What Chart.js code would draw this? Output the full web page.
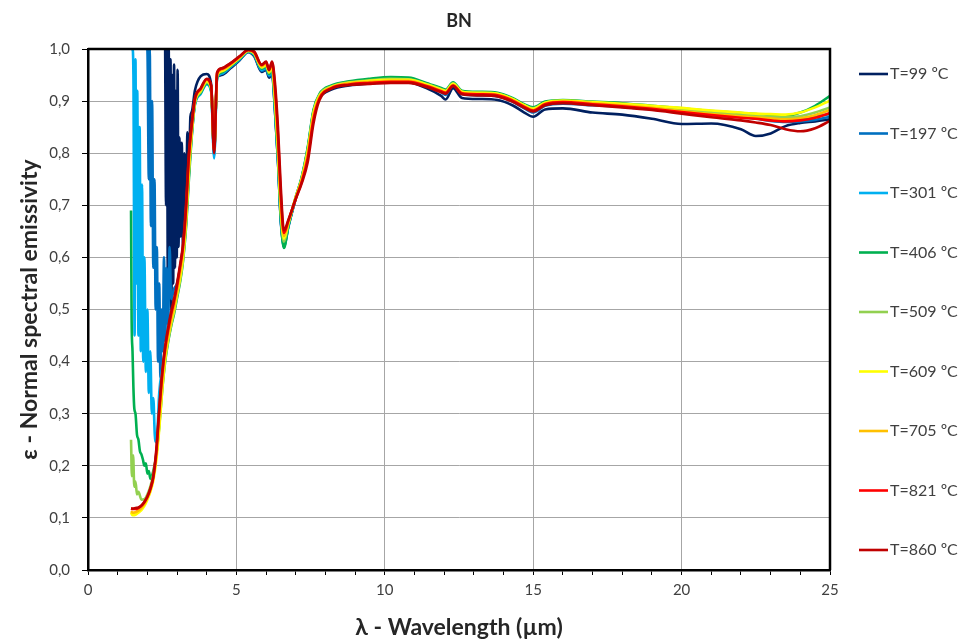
<!DOCTYPE html>
<html lang="en">
  <head>
    <meta charset="UTF-8" />
    <title>BN emissivity</title>
    <style>
      body {
        margin: 0;
        padding: 0;
        background: #ffffff;
      }
      .box {
        width: 966px;
        height: 643px;
        position: relative;
      }
    </style>
  </head>
  <body>
    <div class="box">
      <canvas id="bnChart"></canvas>
    </div>

    <script src="https://cdn.jsdelivr.net/npm/chart.js"></script>
    <script>
      // legend labels and line colours
      const labels = ["T=99 ºC", "T=197 ºC", "T=301 ºC", "T=406 ºC", "T=509 ºC",
        "T=609 ºC", "T=705 ºC", "T=821 ºC", "T=860 ºC"];
      const colors = ["#002060", "#0070C0", "#00B0F0", "#00B050", "#92D050",
        "#FFFF00", "#FFC000", "#FF0000", "#C00000"];

      const yTicks = [0, 0.1, 0.2, 0.3, 0.4, 0.5, 0.6, 0.7, 0.8, 0.9, 1.0];
      const xTicks = [0, 5, 10, 15, 20, 25];

      // wavelengths (µm) shared by all series above 3.5 µm
      const wlTail = [3.6, 3.8, 4.0, 4.15, 4.25, 4.35, 4.5, 4.8, 5.1, 5.4,
        5.6, 5.85, 6.0, 6.1, 6.2, 6.3, 6.4, 6.5, 6.6, 6.75,
        7.0, 7.2, 7.4, 7.6, 7.8, 8.2, 8.8, 9.5, 10.2, 10.8,
        11.4, 11.9, 12.05, 12.3, 12.6, 13.2, 13.8, 14.3, 14.7, 15.0,
        15.4, 16, 17, 18, 19, 20, 21, 22, 22.5, 23,
        23.5, 24, 24.5, 25];

      // short wavelength part, own wavelengths per series (noisy detector edge)
      const wl99 = [2.6, 2.63, 2.66, 2.69, 2.72, 2.75, 2.78, 2.81, 2.84, 2.87,
        2.9, 2.93, 2.96, 2.99, 3.02, 3.05, 3.08, 3.12, 3.16, 3.2,
        3.25, 3.3, 3.35, 3.4, 3.45, 3.5];
      const h99 = [1.0, 0.70, 1.0, 0.56, 1.0, 0.52, 0.98, 0.50, 0.95, 0.55,
        0.97, 0.58, 0.92, 0.60, 0.96, 0.62, 0.83, 0.64, 0.82, 0.62,
        0.80, 0.68, 0.84, 0.76, 0.87, 0.88];

      const wl197 = [1.95, 2.0, 2.05, 2.08, 2.12, 2.16, 2.2, 2.24, 2.28, 2.32,
        2.36, 2.4, 2.44, 2.48, 2.52, 2.56, 2.6, 2.65, 2.7, 2.75,
        2.8, 2.9, 3.0, 3.1, 3.2, 3.3, 3.4, 3.5];
      const h197 = [1.0, 1.0, 0.75, 1.0, 0.66, 0.90, 0.58, 0.75, 0.50, 0.62,
        0.40, 0.55, 0.37, 0.50, 0.42, 0.60, 0.44, 0.58, 0.47, 0.62,
        0.52, 0.54, 0.55, 0.58, 0.62, 0.69, 0.78, 0.845];

      const wl301 = [1.45, 1.5, 1.53, 1.57, 1.6, 1.63, 1.66, 1.7, 1.74, 1.78,
        1.82, 1.86, 1.9, 1.95, 2.0, 2.05, 2.1, 2.15, 2.2, 2.25,
        2.3, 2.35, 2.4, 2.5, 2.6, 2.7, 2.8, 2.9, 3.0, 3.1,
        3.2, 3.3, 3.4, 3.5];
      const h301 = [1.0, 1.0, 0.95, 0.45, 0.98, 0.55, 0.92, 0.45, 0.85, 0.42,
        0.74, 0.40, 0.60, 0.38, 0.50, 0.34, 0.42, 0.30, 0.33, 0.26,
        0.245, 0.28, 0.34, 0.385, 0.425, 0.455, 0.482, 0.505, 0.532, 0.562,
        0.600, 0.665, 0.760, 0.838];

      const wl406 = [1.45, 1.47, 1.5, 1.53, 1.56, 1.6, 1.65, 1.7, 1.75, 1.8,
        1.85, 1.9, 1.95, 2.0, 2.05, 2.1, 2.15, 2.2, 2.3, 2.4,
        2.5, 2.6, 2.7, 2.8, 2.9, 3.0, 3.1, 3.2, 3.3, 3.4,
        3.5];
      const h406 = [0.690, 0.480, 0.420, 0.350, 0.310, 0.300, 0.260, 0.250, 0.228, 0.222,
        0.212, 0.200, 0.205, 0.185, 0.190, 0.175, 0.180, 0.190, 0.220, 0.275,
        0.345, 0.400, 0.438, 0.468, 0.492, 0.522, 0.552, 0.592, 0.655, 0.750,
        0.835];

      const wl509 = [1.45, 1.48, 1.52, 1.56, 1.6, 1.65, 1.7, 1.8, 1.9, 2.0,
        2.1, 2.2, 2.3, 2.4, 2.5, 2.6, 2.7, 2.8, 2.9, 3.0,
        3.1, 3.2, 3.3, 3.4, 3.5];
      const h509 = [0.250, 0.180, 0.220, 0.160, 0.170, 0.145, 0.150, 0.135, 0.136, 0.145,
        0.160, 0.184, 0.220, 0.280, 0.350, 0.405, 0.440, 0.470, 0.495, 0.525,
        0.555, 0.595, 0.660, 0.760, 0.840];

      // 609, 705, 821 and 860 ºC share these
      const wlHot = [1.45, 1.5, 1.6, 1.7, 1.8, 1.9, 2.0, 2.1, 2.2, 2.3,
        2.4, 2.5, 2.6, 2.7, 2.8, 2.9, 3.0, 3.1, 3.2, 3.3,
        3.4, 3.5];
      const h609 = [0.110, 0.105, 0.106, 0.110, 0.115, 0.123, 0.135, 0.150, 0.172, 0.210,
        0.270, 0.345, 0.405, 0.445, 0.475, 0.500, 0.530, 0.560, 0.600, 0.670,
        0.770, 0.845];
      const h705 = [0.113, 0.110, 0.111, 0.114, 0.119, 0.127, 0.138, 0.153, 0.176, 0.218,
        0.290, 0.360, 0.415, 0.450, 0.480, 0.505, 0.535, 0.570, 0.610, 0.680,
        0.780, 0.850];
      const h821 = [0.118, 0.117, 0.117, 0.119, 0.123, 0.130, 0.140, 0.155, 0.178, 0.225,
        0.305, 0.375, 0.425, 0.460, 0.490, 0.515, 0.545, 0.580, 0.620, 0.690,
        0.795, 0.855];
      const h860 = [0.118, 0.118, 0.119, 0.120, 0.124, 0.131, 0.141, 0.156, 0.180, 0.230,
        0.310, 0.380, 0.430, 0.465, 0.495, 0.520, 0.550, 0.585, 0.625, 0.700,
        0.800, 0.860];

      // values on wlTail
      const t99 = [0.920, 0.948, 0.952, 0.932, 0.810, 0.945, 0.950, 0.963, 0.978, 0.994,
        0.986, 0.956, 0.960, 0.945, 0.952, 0.880, 0.785, 0.668, 0.625, 0.660,
        0.713, 0.750, 0.800, 0.876, 0.906, 0.922, 0.930, 0.934, 0.936, 0.936,
        0.925, 0.910, 0.903, 0.925, 0.906, 0.904, 0.902, 0.892, 0.878, 0.870,
        0.884, 0.886, 0.878, 0.874, 0.866, 0.856, 0.857, 0.846, 0.833, 0.838,
        0.852, 0.858, 0.861, 0.865];
      const t197 = [0.895, 0.918, 0.935, 0.920, 0.795, 0.944, 0.952, 0.965, 0.979, 0.995,
        0.988, 0.958, 0.962, 0.948, 0.954, 0.882, 0.785, 0.666, 0.619, 0.658,
        0.714, 0.752, 0.806, 0.880, 0.910, 0.926, 0.934, 0.938, 0.941, 0.940,
        0.930, 0.917, 0.912, 0.931, 0.913, 0.911, 0.909, 0.899, 0.886, 0.878,
        0.891, 0.895, 0.892, 0.889, 0.884, 0.880, 0.874, 0.869, 0.866, 0.862,
        0.860, 0.861, 0.864, 0.870];
      const t301 = [0.892, 0.914, 0.932, 0.918, 0.790, 0.944, 0.953, 0.966, 0.980, 0.995,
        0.989, 0.960, 0.964, 0.950, 0.956, 0.885, 0.788, 0.668, 0.620, 0.660,
        0.715, 0.753, 0.808, 0.882, 0.912, 0.928, 0.936, 0.940, 0.943, 0.942,
        0.932, 0.920, 0.916, 0.933, 0.916, 0.914, 0.912, 0.902, 0.889, 0.882,
        0.894, 0.898, 0.895, 0.892, 0.887, 0.882, 0.877, 0.872, 0.870, 0.868,
        0.866, 0.867, 0.870, 0.875];
      const t406 = [0.894, 0.916, 0.934, 0.921, 0.804, 0.946, 0.955, 0.967, 0.981, 0.996,
        0.990, 0.962, 0.966, 0.952, 0.960, 0.890, 0.792, 0.672, 0.618, 0.660,
        0.716, 0.754, 0.810, 0.884, 0.914, 0.930, 0.938, 0.943, 0.946, 0.945,
        0.935, 0.925, 0.922, 0.936, 0.920, 0.918, 0.916, 0.906, 0.894, 0.888,
        0.899, 0.902, 0.899, 0.896, 0.891, 0.886, 0.881, 0.877, 0.875, 0.873,
        0.872, 0.878, 0.891, 0.910];
      const t509 = [0.896, 0.918, 0.936, 0.923, 0.806, 0.948, 0.957, 0.968, 0.982, 0.996,
        0.991, 0.964, 0.968, 0.954, 0.964, 0.898, 0.800, 0.682, 0.630, 0.664,
        0.716, 0.752, 0.806, 0.880, 0.912, 0.928, 0.936, 0.940, 0.943, 0.942,
        0.933, 0.923, 0.920, 0.934, 0.918, 0.916, 0.914, 0.904, 0.892, 0.886,
        0.897, 0.900, 0.897, 0.893, 0.889, 0.884, 0.878, 0.874, 0.872, 0.870,
        0.869, 0.871, 0.878, 0.888];
      const t609 = [0.898, 0.920, 0.938, 0.925, 0.808, 0.950, 0.958, 0.969, 0.983, 0.997,
        0.992, 0.965, 0.970, 0.956, 0.967, 0.905, 0.808, 0.690, 0.636, 0.666,
        0.715, 0.750, 0.802, 0.877, 0.910, 0.927, 0.935, 0.939, 0.941, 0.941,
        0.932, 0.922, 0.919, 0.933, 0.918, 0.916, 0.914, 0.904, 0.892, 0.885,
        0.897, 0.901, 0.898, 0.895, 0.891, 0.887, 0.882, 0.878, 0.876, 0.875,
        0.874, 0.878, 0.888, 0.901];
      const t705 = [0.900, 0.922, 0.940, 0.927, 0.805, 0.952, 0.960, 0.970, 0.984, 0.997,
        0.993, 0.967, 0.972, 0.958, 0.970, 0.915, 0.820, 0.700, 0.641, 0.668,
        0.714, 0.748, 0.797, 0.872, 0.908, 0.926, 0.934, 0.937, 0.939, 0.939,
        0.930, 0.920, 0.917, 0.931, 0.916, 0.914, 0.912, 0.902, 0.890, 0.883,
        0.895, 0.899, 0.896, 0.892, 0.887, 0.881, 0.875, 0.871, 0.869, 0.867,
        0.865, 0.867, 0.873, 0.883];
      const t821 = [0.903, 0.924, 0.942, 0.929, 0.802, 0.954, 0.962, 0.972, 0.985, 0.998,
        0.994, 0.969, 0.975, 0.960, 0.974, 0.925, 0.835, 0.715, 0.647, 0.670,
        0.713, 0.745, 0.790, 0.866, 0.905, 0.925, 0.932, 0.935, 0.937, 0.937,
        0.929, 0.919, 0.916, 0.930, 0.915, 0.913, 0.911, 0.901, 0.889, 0.882,
        0.894, 0.898, 0.894, 0.890, 0.885, 0.879, 0.873, 0.868, 0.866, 0.863,
        0.861, 0.863, 0.868, 0.877];
      const t860 = [0.905, 0.925, 0.943, 0.930, 0.800, 0.955, 0.963, 0.973, 0.986, 0.998,
        0.995, 0.970, 0.976, 0.960, 0.976, 0.935, 0.850, 0.730, 0.652, 0.672,
        0.712, 0.742, 0.782, 0.858, 0.902, 0.924, 0.931, 0.933, 0.935, 0.935,
        0.927, 0.917, 0.914, 0.929, 0.913, 0.911, 0.909, 0.899, 0.887, 0.880,
        0.892, 0.896, 0.892, 0.888, 0.883, 0.876, 0.869, 0.863, 0.859, 0.854,
        0.846, 0.842, 0.848, 0.862];

      const heads = [[wl99, h99], [wl197, h197], [wl301, h301], [wl406, h406], [wl509, h509],
        [wlHot, h609], [wlHot, h705], [wlHot, h821], [wlHot, h860]];
      const tails = [t99, t197, t301, t406, t509, t609, t705, t821, t860];

      function toPoints(wl, head, tail) {
        const xs = wl.concat(wlTail);
        const ys = head.concat(tail);
        return xs.map((x, i) => ({ x: x, y: ys[i] }));
      }

      const datasets = labels.map((label, i) => ({
        label: label,
        data: toPoints(heads[i][0], heads[i][1], tails[i]),
        borderColor: colors[i],
        backgroundColor: colors[i],
        borderWidth: 2.6,
        pointRadius: 0,
        cubicInterpolationMode: "monotone",
        fill: false,
        order: labels.length - i, // hottest on top
      }));

      // title, frame and legend drawn by hand
      const extras = {
        id: "extras",
        afterDatasetsDraw(chart) {
          const { ctx, chartArea } = chart;
          ctx.save();
          ctx.strokeStyle = "#000";
          ctx.lineWidth = 2.5;
          ctx.beginPath();
          ctx.moveTo(chartArea.left, chartArea.top);
          ctx.lineTo(chartArea.right, chartArea.top);
          ctx.lineTo(chartArea.right, chartArea.bottom);
          ctx.stroke();
          ctx.restore();
        },
        afterDraw(chart) {
          const { ctx, chartArea } = chart;
          ctx.save();
          ctx.fillStyle = "#262626";
          ctx.font = "bold 18px Lato, 'Open Sans', sans-serif";
          ctx.textAlign = "center";
          ctx.textBaseline = "middle";
          ctx.fillText("BN", (chartArea.left + chartArea.right) / 2, 21);

          ctx.font = "16px Lato, 'Open Sans', sans-serif";
          ctx.textAlign = "left";
          chart.data.datasets.forEach((ds, i) => {
            const y = chartArea.top + 25 + i * 59.5;
            const x = chartArea.right + 29;
            ctx.strokeStyle = ds.borderColor;
            ctx.lineWidth = 2.6;
            ctx.beginPath();
            ctx.moveTo(x, y);
            ctx.lineTo(x + 29, y);
            ctx.stroke();
            ctx.fillStyle = "#404040";
            ctx.fillText(ds.label, x + 31, y);
          });
          ctx.restore();
        },
      };

      Chart.defaults.font.family = "Lato, 'Open Sans', sans-serif";

      new Chart(document.getElementById("bnChart"), {
        type: "line",
        data: { datasets: datasets },
        options: {
          responsive: true,
          maintainAspectRatio: false,
          animation: false,
          layout: { padding: { top: 49, right: 136, left: 0, bottom: 0 } },
          plugins: {
            legend: { display: false },
            tooltip: { enabled: false },
          },
          scales: {
            x: {
              type: "linear",
              min: 0,
              max: 25,
              afterFit: (scale) => { scale.height = 73; },
              ticks: {
                stepSize: 1,
                autoSkip: false,
                maxRotation: 0,
                padding: 6,
                color: "#404040",
                font: { size: 15 },
                callback: (v) => (xTicks.includes(v) ? String(v) : ""),
              },
              grid: {
                color: (c) => (c.tick && xTicks.includes(c.tick.value) ? "#a6a6a6" : "rgba(0,0,0,0)"),
                tickColor: "#000",
                tickLength: 5,
                lineWidth: 1,
              },
              border: { color: "#000", width: 2.5 },
              title: {
                display: true,
                text: "λ - Wavelength (µm)",
                color: "#262626",
                font: { size: 23, weight: "bold" },
                padding: { top: 2, bottom: 2 },
              },
            },
            y: {
              min: 0,
              max: 1,
              afterFit: (scale) => { scale.width = 88; },
              afterBuildTicks: (scale) => {
                scale.ticks = yTicks.map((v) => ({ value: v }));
              },
              ticks: {
                padding: 12,
                color: "#404040",
                font: { size: 15 },
                callback: (v) => v.toFixed(1).replace(".", ","),
              },
              grid: {
                color: "#a6a6a6",
                tickColor: "#000",
                tickLength: 6,
                lineWidth: 1,
              },
              border: { color: "#000", width: 2.5 },
              title: {
                display: true,
                text: "ε - Normal spectral emissivity",
                color: "#262626",
                font: { size: 23, weight: "bold" },
                padding: { top: 16, bottom: 4 },
              },
            },
          },
        },
        plugins: [extras],
      });
    </script>
  </body>
</html>
